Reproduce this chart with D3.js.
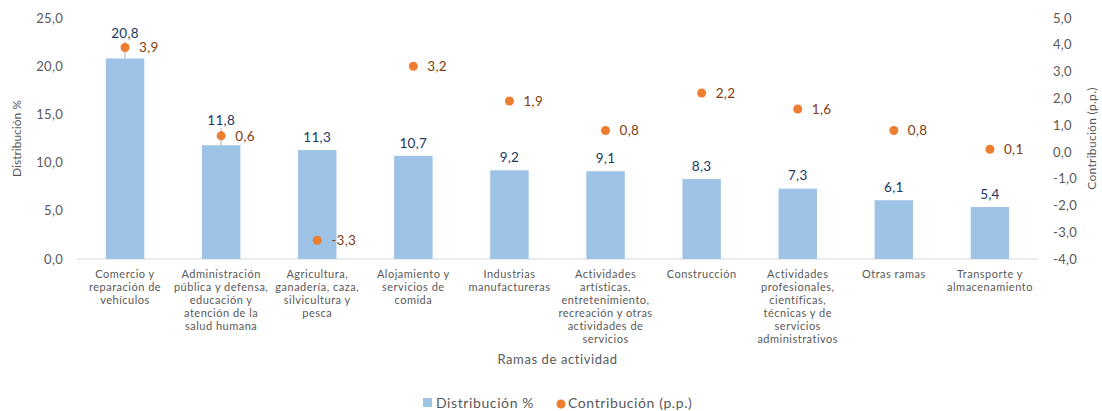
<!DOCTYPE html>
<html>
<head>
<meta charset="utf-8">
<script src="https://cdn.jsdelivr.net/npm/d3@7"></script>
<style>
  body { margin: 0; background: #fff; }
  text { font-family: Lato, "Open Sans", sans-serif; }
</style>
</head>
<body>
<div id="chart"></div>
<script>
const width = 1102;
const height = 411;

const categories = [
  ["Comercio y", "reparación de", "vehículos"],
  ["Administración", "pública y defensa,", "educación y", "atención de la", "salud humana"],
  ["Agricultura,", "ganadería, caza,", "silvicultura y", "pesca"],
  ["Alojamiento y", "servicios de", "comida"],
  ["Industrias", "manufactureras"],
  ["Actividades", "artísticas,", "entretenimiento,", "recreación y otras", "actividades de", "servicios"],
  ["Construcción"],
  ["Actividades", "profesionales,", "científicas,", "técnicas y de", "servicios", "administrativos"],
  ["Otras ramas"],
  ["Transporte y", "almacenamiento"]
];
const distribucion = [20.8, 11.8, 11.3, 10.7, 9.2, 9.1, 8.3, 7.3, 6.1, 5.4];
const contribucion = [3.9, 0.6, -3.3, 3.2, 1.9, 0.8, 2.2, 1.6, 0.8, 0.1];
const leftTicks = [0, 5, 10, 15, 20, 25];
const rightTicks = [-4, -3, -2, -1, 0, 1, 2, 3, 4, 5];
const movedLabels = [true, true, false, false, false, false, false, false, false, false];

const fmt = v => d3.format(".1f")(v).replace(".", ",").replace("−", "-");

const margin = {top: 18, right: 64, bottom: 152, left: 77};
const x0 = margin.left, x1 = width - margin.right;
const yTop = margin.top, yBot = height - margin.bottom;

const svg = d3.select("#chart").append("svg")
  .attr("width", width).attr("height", height);

const x = d3.scaleBand().domain(d3.range(categories.length)).range([x0, x1]).paddingInner(0.6).paddingOuter(0.3);
const xc = i => x(i) + x.bandwidth() / 2;
const yL = d3.scaleLinear().domain([0, 25]).range([yBot, yTop]);
const yR = d3.scaleLinear().domain([-4, 5]).range([yBot, yTop]);

// left axis
const axL = svg.append("g").attr("transform", `translate(${x0 - 14},0)`)
  .call(d3.axisLeft(yL).tickValues(leftTicks).tickFormat(fmt).tickSize(0).tickPadding(0));
axL.select(".domain").remove();
axL.selectAll("text").attr("fill", "#595959").style("font-size", "13px").style("letter-spacing", "0.3px");

// right axis
const axR = svg.append("g").attr("transform", `translate(${x1 + 15},0)`)
  .call(d3.axisRight(yR).tickValues(rightTicks).tickFormat(fmt).tickSize(0).tickPadding(0));
axR.select(".domain").remove();
axR.selectAll("text").attr("fill", "#595959").style("font-size", "13px").style("letter-spacing", "0.3px");

// baseline
svg.append("line").attr("x1", x0).attr("x2", x1).attr("y1", yBot).attr("y2", yBot)
  .attr("stroke", "#d9d9d9").attr("stroke-width", 1);

// bars
svg.selectAll(".bar").data(distribucion).enter().append("rect")
  .attr("class", "bar")
  .attr("x", (d, i) => x(i)).attr("width", x.bandwidth())
  .attr("y", d => yL(d)).attr("height", d => yBot - yL(d))
  .attr("fill", "#9dc3e6");

// leader lines
distribucion.forEach((d, i) => {
  if (!movedLabels[i]) return;
  svg.append("line").attr("x1", xc(i)).attr("x2", xc(i))
    .attr("y1", yL(d)).attr("y2", yL(d) - 17)
    .attr("stroke", "#a6a6a6").attr("stroke-width", 1);
});

// bar labels
svg.selectAll(".blabel").data(distribucion).enter().append("text")
  .attr("class", "blabel")
  .attr("x", (d, i) => xc(i))
  .attr("y", (d, i) => yL(d) - (movedLabels[i] ? 25 : 13))
  .attr("dy", "0.35em").attr("text-anchor", "middle")
  .attr("fill", "#203864").style("font-size", "13.5px").style("letter-spacing", "0.3px")
  .text(fmt);

// dots
svg.selectAll(".dot").data(contribucion).enter().append("circle")
  .attr("class", "dot")
  .attr("cx", (d, i) => xc(i)).attr("cy", d => yR(d)).attr("r", 4.5)
  .attr("fill", "#ed7d31");

svg.selectAll(".dlabel").data(contribucion).enter().append("text")
  .attr("class", "dlabel")
  .attr("x", (d, i) => xc(i) + 14).attr("y", d => yR(d))
  .attr("dy", "0.35em")
  .attr("fill", "#843c0c").style("font-size", "13.5px").style("letter-spacing", "0.3px")
  .text(fmt);

// category labels
categories.forEach((lines, i) => {
  const t = svg.append("text").attr("x", xc(i)).attr("y", yBot + 19)
    .attr("text-anchor", "middle").attr("fill", "#595959")
    .style("font-size", "11px").style("letter-spacing", "0.5px");
  lines.forEach((l, j) => t.append("tspan").attr("x", xc(i)).attr("dy", j ? 13 : 0).text(l));
});

// axis titles
svg.append("text").attr("x", (x0 + x1) / 2).attr("y", 364).attr("text-anchor", "middle")
  .attr("fill", "#595959").style("font-size", "13px").style("letter-spacing", "0.6px").text("Ramas de actividad");
svg.append("text").attr("transform", `translate(21,${(yTop + yBot) / 2}) rotate(-90)`)
  .attr("text-anchor", "middle").attr("fill", "#595959").style("font-size", "12px").text("Distribución %");
svg.append("text").attr("transform", `translate(1096,${(yTop + yBot) / 2}) rotate(-90)`)
  .attr("text-anchor", "middle").attr("fill", "#595959").style("font-size", "12px").style("letter-spacing", "0.3px").text("Contribución (p.p.)");

// legend
const lg = svg.append("g").attr("transform", "translate(0,403)");
lg.append("rect").attr("x", 423).attr("y", -5).attr("width", 9).attr("height", 9).attr("fill", "#9dc3e6");
lg.append("text").attr("x", 436).attr("y", 0).attr("dy", "0.35em").attr("fill", "#595959")
  .style("font-size", "14px").style("letter-spacing", "0.6px").text("Distribución %");
lg.append("circle").attr("cx", 561).attr("cy", 1).attr("r", 4.5).attr("fill", "#ed7d31");
lg.append("text").attr("x", 568).attr("y", 0).attr("dy", "0.35em").attr("fill", "#595959")
  .style("font-size", "14px").style("letter-spacing", "0.6px").text("Contribución (p.p.)");
</script>
</body>
</html>
